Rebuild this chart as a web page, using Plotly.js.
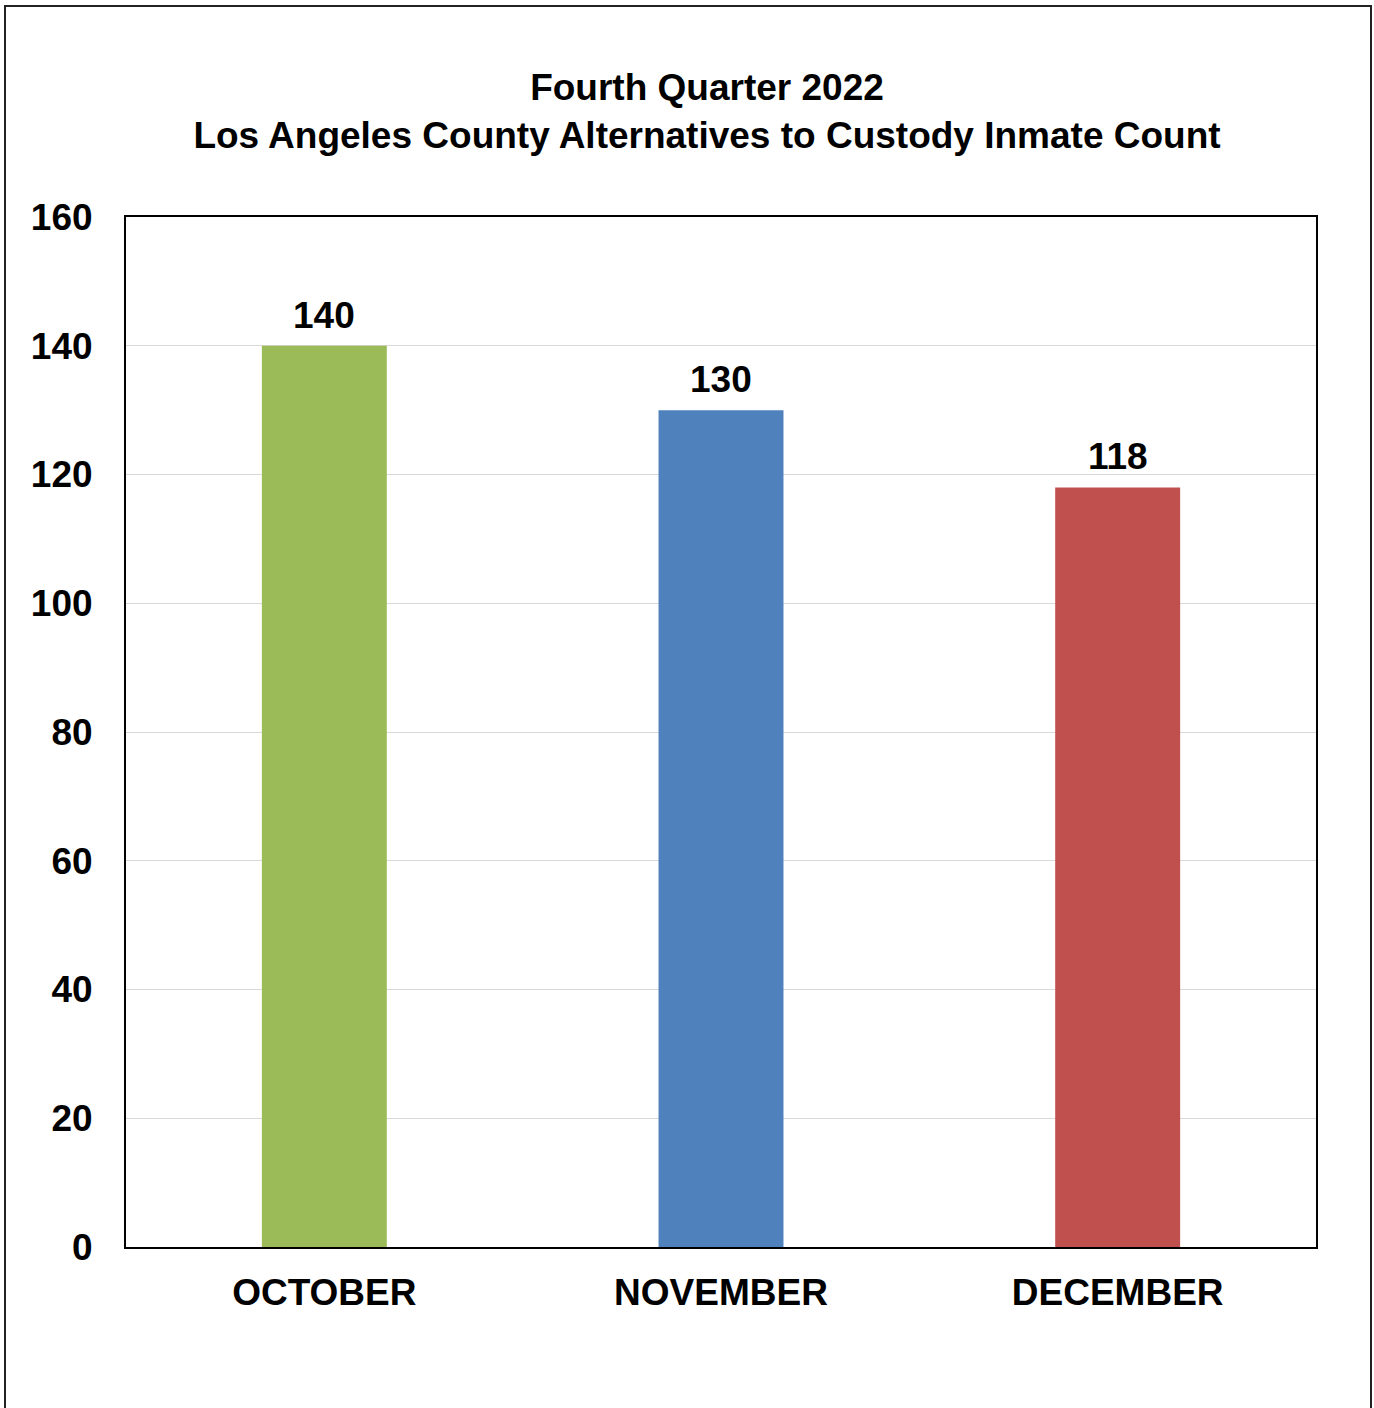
<!DOCTYPE html>
<html>
<head>
<meta charset="utf-8">
<script src="https://cdn.plot.ly/plotly-3.0.1.min.js"></script>
<style>
  html, body { margin: 0; padding: 0; background: #fff; }
  #chart { width: 1374px; height: 1408px; }
</style>
</head>
<body>
<div id="chart"></div>
<script>
const months = ["OCTOBER", "NOVEMBER", "DECEMBER"];
const counts = [140, 130, 118];
const barColors = ["#9BBB59", "#4F81BD", "#C0504D"];
const yTicks = [0, 20, 40, 60, 80, 100, 120, 140, 160];
const titleLines = ["Fourth Quarter 2022", "Los Angeles County Alternatives to Custody Inmate Count"];

const FONT = "Liberation Sans, Arial, sans-serif";

const trace = {
  type: "bar",
  x: months,
  y: counts,
  marker: { color: barColors, line: { width: 0 } },
  hoverinfo: "x+y"
};

const labelAnnotations = months.map((m, i) => ({
  x: m,
  y: counts[i],
  xref: "x",
  yref: "y",
  text: "<b>" + counts[i] + "</b>",
  showarrow: false,
  xanchor: "center",
  yanchor: "bottom",
  yshift: 8,
  font: { family: FONT, size: 37, color: "#000" }
}));

const layout = {
  width: 1374,
  height: 1408,
  margin: { l: 126, r: 58, t: 217, b: 161, pad: 0 },
  paper_bgcolor: "#ffffff",
  plot_bgcolor: "#ffffff",
  showlegend: false,
  bargap: 0.685,
  font: { family: FONT, color: "#000" },
  title: {
    text: "<b>" + titleLines.join("<br>") + "</b>",
    font: { family: FONT, size: 37, color: "#000" },
    x: 707 / 1374,
    xref: "container",
    xanchor: "center",
    y: 1 - 100 / 1408,
    yref: "container",
    yanchor: "top"
  },
  xaxis: {
    type: "category",
    showline: true,
    linecolor: "#000",
    linewidth: 2,
    mirror: true,
    showgrid: false,
    ticks: "",
    ticklabelstandoff: 12,
    tickfont: { family: FONT, size: 37, color: "#000", weight: "bold" }
  },
  yaxis: {
    range: [0, 160],
    tickmode: "array",
    tickvals: yTicks,
    ticktext: yTicks.map(String),
    showline: true,
    linecolor: "#000",
    linewidth: 2,
    mirror: true,
    showgrid: true,
    gridcolor: "#d9d9d9",
    gridwidth: 1,
    zeroline: false,
    ticks: "",
    ticklabelstandoff: 24,
    tickfont: { family: FONT, size: 37, color: "#000", weight: "bold" }
  },
  annotations: labelAnnotations,
  shapes: [{
    type: "rect",
    xref: "paper", yref: "paper",
    x0: (5 - 126) / 1190, x1: (1371 - 126) / 1190,
    y0: (1247 - 1420) / 1030, y1: (1247 - 6) / 1030,
    line: { color: "#222", width: 2 },
    fillcolor: "rgba(0,0,0,0)",
    layer: "below"
  }]
};

Plotly.newPlot("chart", [trace], layout, { displayModeBar: false, staticPlot: true });
</script>
</body>
</html>
